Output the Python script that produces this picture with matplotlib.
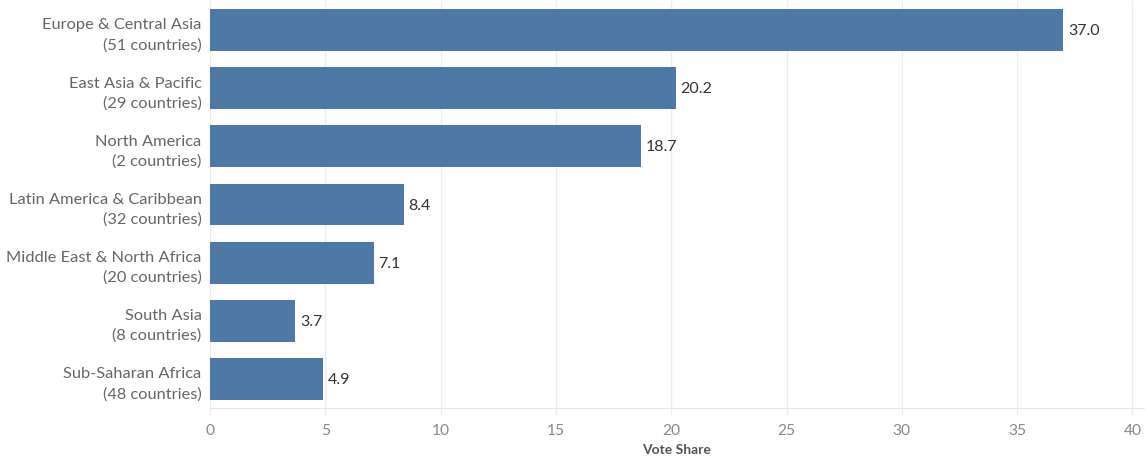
import matplotlib.pyplot as plt

# Vote share by region
regions = ['Europe & Central Asia', 'East Asia & Pacific', 'North America',
           'Latin America & Caribbean', 'Middle East & North Africa',
           'South Asia', 'Sub-Saharan Africa']
countries = [51, 29, 2, 32, 20, 8, 48]
vote_share = [37.0, 20.2, 18.7, 8.4, 7.1, 3.7, 4.9]
x_ticks = [0, 5, 10, 15, 20, 25, 30, 35, 40]

bar_color = '#4e79a7'
plt.rcParams['font.family'] = ['Lato', 'DejaVu Sans']

fig = plt.figure(figsize=(11.46, 4.6), dpi=100)
ax = fig.add_axes([210 / 1146, 1 - 409 / 460, 934 / 1146, 407 / 460])

ypos = list(range(len(regions)))
ax.barh(ypos, vote_share, height=0.72, color=bar_color, zorder=3)

for y, v in zip(ypos, vote_share):
    ax.text(v + 0.2, y, f'{v:.1f}', va='center', ha='left', fontsize=11.5, color='#333333')

labels = [f'{r}\n({n} countries)' for r, n in zip(regions, countries)]
ax.set_yticks(ypos)
ax.set_yticklabels(labels, fontsize=11.8, color='#666666', linespacing=1.5)
ax.set_ylim(len(regions) - 0.5, -0.5)

ax.set_xlim(0, 40.5)
ax.set_xticks(x_ticks)
ax.set_xticklabels([str(t) for t in x_ticks], fontsize=11.2, color='#888888')
ax.set_xlabel('Vote Share', fontsize=10, fontweight='bold', color='#555555', labelpad=4)

ax.grid(axis='x', color='#ececec', linewidth=1, zorder=0)
ax.tick_params(axis='y', length=0, pad=6)
ax.tick_params(axis='x', length=5, color='#ececec', pad=6)
for side in ['top', 'right', 'left']:
    ax.spines[side].set_visible(False)
ax.spines['bottom'].set_color('#e6e6e6')

fig.savefig('out.png', dpi=100)
